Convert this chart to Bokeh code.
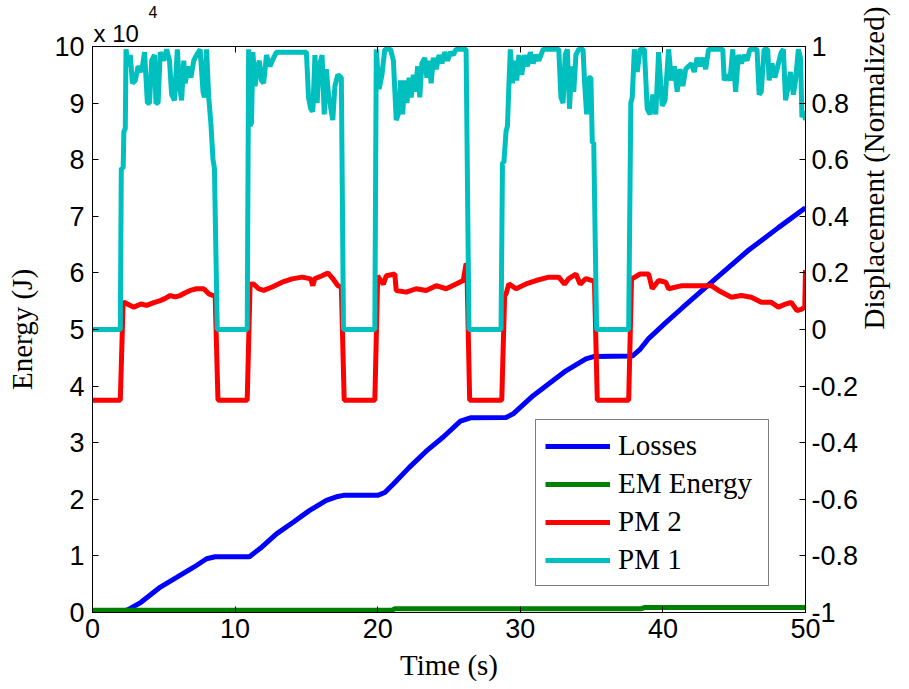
import math
from bokeh.plotting import figure
from bokeh.models import (Range1d, LinearAxis, FixedTicker, Legend, LegendItem,
                          Title, CustomJSTickFormatter)
from bokeh.embed import file_html
from bokeh.resources import INLINE

# ---------------- data ----------------
# Losses (J), left axis
loss_t = [0, 2.1, 2.5, 3.4, 4.76, 5.9, 7.1, 8.0, 8.6, 11.0, 11.75, 12.9, 14.1, 15.2, 16.4,
          17.2, 17.6, 20.0, 20.5, 21.1, 22.2, 23.4, 24.6, 25.8, 26.5, 29.0, 29.5, 30.9,
          32.0, 33.2, 34.6, 35.2, 37.85, 38.4, 39.0, 40.2, 41.35, 43.7, 46.0, 48.1, 50.0]
loss_v = [200, 200, 500, 1800, 4500, 6200, 8000, 9500, 9850, 9850, 11300, 13900, 16000,
          18000, 19800, 20500, 20700, 20700, 21200, 22700, 25600, 28500, 31000, 33800,
          34400, 34450, 35100, 38300, 40400, 42700, 44800, 45250, 45300, 46500, 48400,
          51200, 53800, 59000, 64000, 68000, 71500]

# EM Energy (J), left axis
em_t = [0, 21.0, 21.2, 38.5, 38.7, 50.0]
em_v = [400, 400, 650, 650, 900, 900]

# PM 2 displacement (normalized), right axis
pm2_t = [0, 1.95, 2.15, 2.2, 2.9, 3.4, 3.8, 4.3, 4.75, 5.1, 5.45, 5.8, 6.15, 6.5, 6.85,
         7.3, 7.8, 8.15, 8.45, 8.6, 8.8,
         10.85, 11.05, 11.3, 11.65, 12.0, 12.6, 13.3, 14.0, 14.7, 15.3, 15.45, 15.6,
         16.1, 16.5, 16.85, 17.2, 17.45, 17.65,
         19.8, 20.0, 20.05, 20.4, 20.6, 21.2, 21.3, 22.0, 22.7, 23.4, 24.1, 24.8, 25.5,
         26.0, 26.2, 26.25, 26.45,
         28.7, 28.9, 29.0, 29.2, 29.7, 30.4, 31.1, 32.0, 32.7, 33.1, 33.4, 33.9, 34.2,
         34.6, 35.05, 35.2, 35.4,
         37.6, 37.8, 37.85, 38.4, 39.0, 39.25, 39.7, 40.2, 40.4, 41.35, 42.5, 43.4, 43.9,
         44.8, 45.5, 46.2, 46.9, 47.6, 48.1, 48.6, 49.0, 49.4, 49.75, 49.95, 50.0]
pm2_v = [-0.25, -0.25, 0.10, 0.096, 0.079, 0.09, 0.085, 0.095, 0.102, 0.11, 0.12, 0.115,
         0.12, 0.13, 0.138, 0.144, 0.144, 0.126, 0.12, 0.12, -0.25,
         -0.25, 0.16, 0.161, 0.144, 0.138, 0.15, 0.167, 0.179, 0.185, 0.179, 0.155, 0.18,
         0.19, 0.2, 0.18, 0.155, 0.15, -0.25,
         -0.25, 0.19, 0.185, 0.16, 0.19, 0.196, 0.138, 0.132, 0.144, 0.138, 0.155, 0.144,
         0.161, 0.173, 0.233, 0.23, -0.25,
         -0.25, 0.12, 0.126, 0.161, 0.144, 0.161, 0.173, 0.185, 0.185, 0.16, 0.18, 0.196,
         0.16, 0.18, 0.173, 0.17, -0.25,
         -0.25, 0.18, 0.18, 0.196, 0.196, 0.144, 0.173, 0.167, 0.144, 0.155, 0.155, 0.155,
         0.138, 0.114, 0.12, 0.114, 0.096, 0.096, 0.079, 0.09, 0.096, 0.067, 0.072, 0.08,
         0.21]

# PM 1 displacement (normalized), right axis
pm1_t = [0, 1.95, 2.02, 2.15, 2.2, 2.3, 2.35, 2.5, 2.65, 2.8, 3.0, 3.2, 3.45, 3.65, 3.85,
         4.0, 4.15, 4.35, 4.45, 4.6, 4.75, 5.0, 5.2, 5.4, 5.55, 5.75, 5.95, 6.1, 6.25,
         6.4, 6.5, 6.7, 6.9, 7.1, 7.3, 7.55, 7.75, 7.85, 8.0, 8.15, 8.3, 8.45, 8.55, 8.75,
         10.85, 10.95, 11.05, 11.15, 11.25, 11.4, 11.55, 11.7, 11.85, 12.0, 12.2, 12.45,
         12.7, 12.9, 13.2, 14.0, 15.0, 15.15, 15.3, 15.45, 15.6, 15.75, 15.9, 16.1, 16.25,
         16.4, 16.55, 16.85, 17.0, 17.2, 17.45, 17.6,
         19.8, 19.9, 20.1, 20.3, 20.5, 20.9, 21.1, 21.3, 21.5, 21.6, 21.75, 21.9, 22.05,
         22.2, 22.35, 22.5, 22.65, 22.8, 22.95, 23.1, 23.3, 23.45, 23.6, 23.75, 23.9, 24.1,
         24.3, 24.5, 24.7, 24.9, 25.1, 25.3, 25.5, 26.2, 26.4,
         28.65, 28.75, 28.85, 29.0, 29.1, 29.2, 29.3, 29.45, 29.6, 29.75, 29.9, 30.1, 30.3,
         30.5, 30.7, 30.9, 31.1, 31.3, 31.6, 32.7, 32.85, 33.0, 33.15, 33.3, 33.45, 33.6,
         33.75, 33.9, 34.1, 34.4, 34.5, 34.65, 34.8, 34.95, 35.05, 35.15, 35.35,
         37.6, 37.75, 37.85, 38.0, 38.2, 38.4, 38.7, 38.9, 39.1, 39.3, 39.5, 39.7, 39.95,
         40.15, 40.4, 40.6, 40.8, 41.0, 41.2, 41.4, 41.6, 41.8, 42.0, 42.2, 42.4, 42.6,
         42.8, 43.0, 43.2, 44.2, 44.3, 44.5, 44.7, 44.9, 45.1, 45.3, 45.5, 45.7, 45.9,
         46.1, 46.6, 46.75, 46.9, 47.1, 47.35, 47.45, 47.65, 47.85, 48.05, 48.3, 48.45,
         48.6, 48.75, 48.95, 49.15, 49.3, 49.5, 49.65, 49.75, 49.9, 50.0]
pm1_v = [0, 0, 0.57, 0.57, 0.70, 0.71, 0.99, 0.93, 0.97, 0.87, 0.88, 0.93, 0.91, 0.98, 0.80,
         0.80, 0.95, 0.97, 0.80, 0.80, 0.98, 0.95, 0.99, 0.95, 0.83, 0.81, 0.99, 0.86, 0.81,
         0.95, 0.87, 0.93, 0.89, 0.95, 0.97, 0.99, 0.84, 0.82, 0.99, 0.82, 0.73, 0.60, 0.57, 0,
         0, 0.99, 0.72, 0.73, 0.98, 0.86, 0.92, 0.95, 0.88, 0.87, 0.97, 0.93,
         0.96, 0.98, 0.98, 0.98, 0.98, 0.82, 0.78, 0.77, 0.97, 0.80, 0.93, 0.97, 0.76,
         0.92, 0.83, 0.74, 0.86, 0.90, 0.89, 0,
         0, 0.99, 0.85, 0.90, 0.99, 0.99, 0.95, 0.74, 0.77, 0.88, 0.76, 0.88, 0.80,
         0.89, 0.82, 0.90, 0.84, 0.93, 0.82, 0.94, 0.96, 0.89, 0.95, 0.87, 0.96, 0.92,
         0.97, 0.94, 0.98, 0.95, 0.98, 0.97, 0.99, 0.99, 0,
         0, 0.59, 0.59, 0.70, 0.72, 0.86, 0.99, 0.87, 0.95, 0.88, 0.97, 0.90, 0.97,
         0.93, 0.98, 0.94, 0.97, 0.95, 0.99, 0.99, 0.82, 0.80, 0.97, 0.99, 0.78, 0.93,
         0.84, 0.97, 0.99, 0.99, 0.88, 0.76, 0.89, 0.89, 0.66, 0.66, 0,
         0, 0.80, 0.82, 0.99, 0.91, 0.99, 0.99, 0.78, 0.76, 0.83, 0.76, 0.98, 0.79,
         0.81, 0.99, 0.88, 0.93, 0.84, 0.92, 0.86, 0.92, 0.93, 0.94, 0.91, 0.96, 0.93,
         0.96, 0.92, 0.99, 0.99, 0.88, 0.90, 0.88, 0.99, 0.84, 0.97, 0.94, 0.97, 0.95,
         0.99, 0.99, 0.83, 0.84, 0.99, 0.99, 0.88, 0.94, 0.89, 0.93, 0.98, 0.99,
         0.81, 0.85, 0.91, 0.83, 0.88, 0.99, 0.96, 0.75, 0.77, 0.74]

x_ticks = [0, 10, 20, 30, 40, 50]
energy_ticks = [0, 10000, 20000, 30000, 40000, 50000, 60000, 70000, 80000, 90000, 100000]
disp_ticks = [-1, -0.8, -0.6, -0.4, -0.2, 0, 0.2, 0.4, 0.6, 0.8, 1]
series_names = ["Losses", "EM Energy", "PM 2", "PM 1"]
series_colors = ["#0000FF", "#008000", "#FF0000", "#00BFBF"]

# ---------------- figure ----------------
SANS = "Liberation Sans"
SERIF = "Liberation Serif"

p = figure(width=909, height=689, output_backend="svg", toolbar_location=None,
           x_range=Range1d(0, 50), y_range=Range1d(0, 100000),
           min_border_left=92, min_border_right=102, min_border_top=46,
           min_border_bottom=77, background_fill_color="white",
           border_fill_color="white")
p.extra_y_ranges = {"disp": Range1d(-1, 1)}
p.xgrid.grid_line_color = None
p.ygrid.grid_line_color = None
p.outline_line_color = "black"
p.outline_line_width = 1

r_loss = p.line(loss_t, loss_v, line_color=series_colors[0], line_width=5)
r_em = p.line(em_t, em_v, line_color=series_colors[1], line_width=5)
r_pm2 = p.line(pm2_t, pm2_v, line_color=series_colors[2], line_width=5, y_range_name="disp")
r_pm1 = p.line(pm1_t, pm1_v, line_color=series_colors[3], line_width=5, y_range_name="disp")


def style(ax):
    ax.axis_line_color = "black"
    ax.major_tick_line_color = "black"
    ax.major_tick_in = 6
    ax.major_tick_out = 0
    ax.minor_tick_line_color = None
    ax.major_label_text_font = SANS
    ax.major_label_text_font_size = "27px"
    ax.major_label_text_color = "black"
    ax.axis_label_text_font = SERIF
    ax.axis_label_text_font_size = "29px"
    ax.axis_label_text_font_style = "normal"
    ax.axis_label_text_color = "black"


xa = p.xaxis[0]
xa.ticker = FixedTicker(ticks=x_ticks)
xa.axis_label = "Time (s)"
style(xa)
xa.major_label_standoff = 6
xa.axis_label_standoff = 8

ya = p.yaxis[0]
ya.ticker = FixedTicker(ticks=energy_ticks)
ya.formatter = CustomJSTickFormatter(code="return String(Math.round(tick / 10000));")
ya.axis_label = "Energy (J)"
style(ya)
ya.major_label_standoff = 8
ya.axis_label_standoff = 13

ra = LinearAxis(y_range_name="disp", ticker=FixedTicker(ticks=disp_ticks),
                formatter=CustomJSTickFormatter(code="return String(Math.round(tick * 10) / 10);"),
                axis_label="Displacement (Normalized)")
style(ra)
ra.major_label_standoff = 6
ra.axis_label_standoff = 13
ra.axis_label_orientation = math.pi / 2
ra.axis_label_text_baseline = "top"
p.add_layout(ra, "right")

ta = LinearAxis(ticker=FixedTicker(ticks=x_ticks))
style(ta)
ta.major_label_text_alpha = 0
ta.major_label_text_font_size = "0px"
ta.major_label_standoff = 0
p.add_layout(ta, "above")

# exponent note of the left axis ("x 10" with superscript "4")
p.add_layout(Title(text="x 10", align="left", offset=1, standoff=0,
                   text_font=SANS, text_font_size="24px", text_font_style="normal",
                   text_color="black"), "above")
p.add_layout(Title(text="4", align="left", offset=56, standoff=0,
                   text_font=SANS, text_font_size="16px", text_font_style="normal",
                   text_color="black"), "above")

legend = Legend(items=[LegendItem(label=series_names[0], renderers=[r_loss]),
                       LegendItem(label=series_names[1], renderers=[r_em]),
                       LegendItem(label=series_names[2], renderers=[r_pm2]),
                       LegendItem(label=series_names[3], renderers=[r_pm1])],
                location=(443, 26))
legend.border_line_color = "black"
legend.border_line_width = 1
legend.background_fill_color = "white"
legend.background_fill_alpha = 1
legend.label_text_font = SERIF
legend.label_text_font_size = "29px"
legend.label_text_color = "black"
legend.glyph_width = 65
legend.glyph_height = 32
legend.label_height = 32
legend.label_width = 141
legend.label_standoff = 8
legend.spacing = 5
legend.padding = 9
legend.margin = 0
p.add_layout(legend, "center")

open("out.html", "w").write(file_html(p, INLINE))
